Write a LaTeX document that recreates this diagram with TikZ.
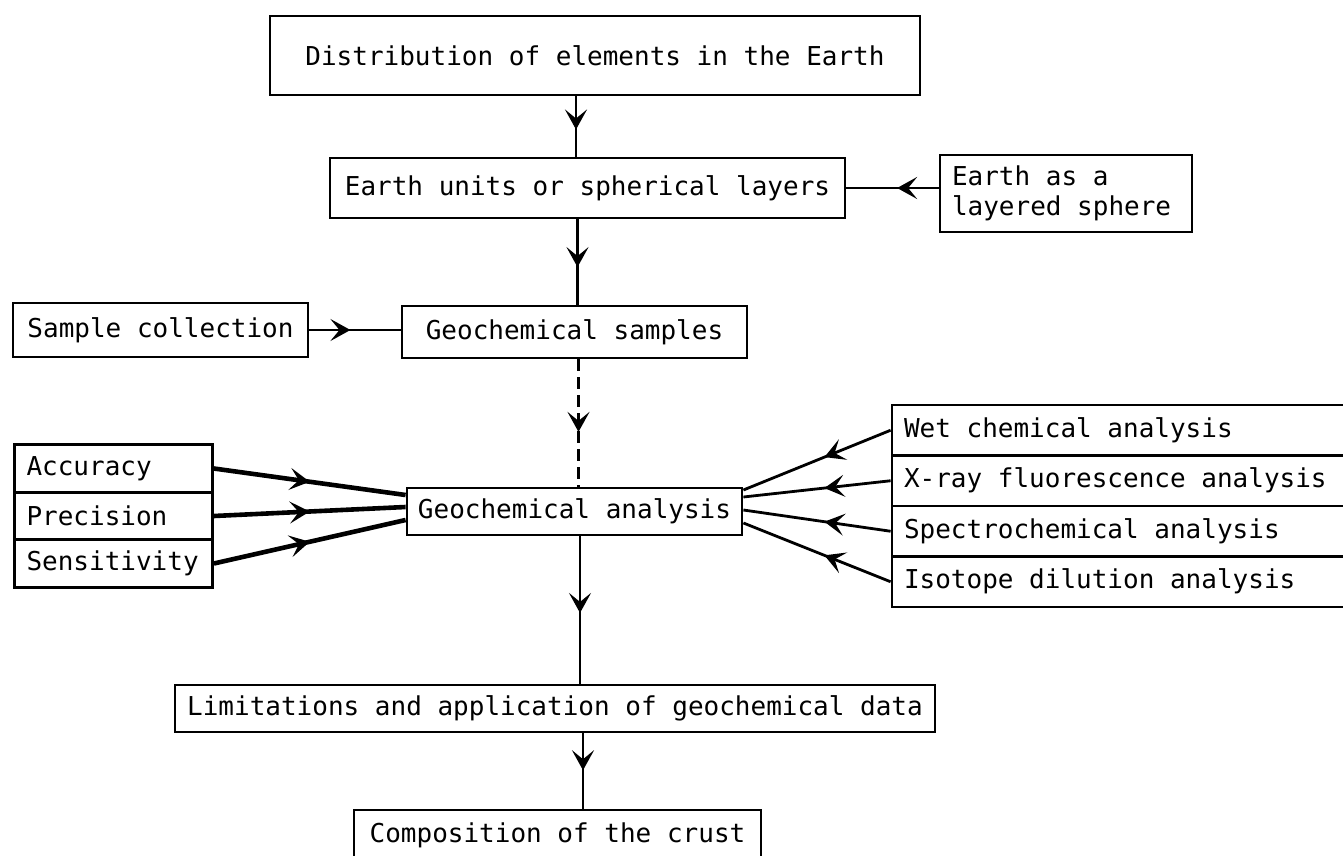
\documentclass[tikz,border=0pt]{standalone}
\usepackage{fontspec}
\newfontfamily\typefont[WordSpace={1,0,0}]{DejaVu Sans Mono}
\usepackage{tikz}
\usetikzlibrary{arrows.meta,positioning,decorations.markings}
\tikzset{
    %Define standard arrow tip
    barb/.tip={Stealth[length=10pt,width=11pt,inset=4.5pt]},
    %Define style for boxes
    stagebox/.style={
           rectangle,
           draw=black, line width=1.4pt,
           inner sep=0pt,
           font=\typefont\fontsize{13}{15}\selectfont,
           text centered},
    listbox/.style={
           rectangle,
           draw=black, line width=1.4pt,
           inner xsep=6pt, inner ysep=0pt,
           font=\typefont\fontsize{13}{15}\selectfont,
           align=left,
           execute at begin node={\spaceskip=0pt\xspaceskip=0pt\relax}},
    % Define arrow style
    link/.style={
           line width=1.4pt},
    heavylink/.style={
           line width=2.3pt},
    midarrow/.style={
           postaction={solid, decorate},
           decoration={markings,
              mark=at position #1 with {\arrow[solid]{barb}}}}
}

\begin{document}
\begin{tikzpicture}[x=0.5pt,y=-0.5pt]
\useasboundingbox (0,0) rectangle (1343,856);
 %nodes
\node[stagebox, minimum width=325pt, minimum height=39.5pt] (dist) at (595,55.5) {Distribution of elements in the Earth};
\node[stagebox, minimum width=257.5pt, minimum height=30pt] (units) at (587.5,188) {Earth units or spherical layers};
\node[listbox, text width=114pt, minimum height=38.5pt] (sphere) at (1066,193.5) {Earth as a\\layered sphere};
\node[stagebox, minimum width=147.5pt, minimum height=27pt] (collect) at (160.5,330) {Sample collection};
\node[stagebox, minimum width=172.5pt, minimum height=26pt] (samples) at (574.5,332) {Geochemical samples};
\node[stagebox, minimum width=167.5pt, minimum height=23.5pt] (analysis) at (574.5,511.5) {Geochemical analysis};

\node[listbox, text width=87pt, minimum height=23.75pt] (acc) at (113.5,468.5) {Accuracy};
\node[listbox, text width=87pt, minimum height=23.75pt, below=-1.4pt of acc] (prec) {Precision};
\node[listbox, text width=87pt, minimum height=23.75pt, below=-1.4pt of prec] (sens) {Sensitivity};

\node[listbox, text width=217pt, minimum height=25.25pt] (wet) at (1121,430.25) {Wet chemical analysis};
\node[listbox, text width=217pt, minimum height=25.25pt, below=-1.4pt of wet] (xray) {X-ray fluorescence analysis};
\node[listbox, text width=217pt, minimum height=25.25pt, below=-1.4pt of xray] (spec) {Spectrochemical analysis};
\node[listbox, text width=217pt, minimum height=25.25pt, below=-1.4pt of spec] (iso) {Isotope dilution analysis};

\node[stagebox, minimum width=380pt, minimum height=23.5pt] (lim) at (555,708.5) {Limitations and application of geochemical data};
\node[stagebox, minimum width=203.5pt, minimum height=25pt] (comp) at (557.5,835) {Composition of the crust};

 %connectors
\coordinate (d1) at ([xshift=-9.5pt]dist.south);
\draw[link, midarrow=0.55] (d1) -- (d1 |- units.north);
\coordinate (u1) at ([xshift=-5pt]units.south);
\draw[link, midarrow=0.56] (u1) -- (u1 |- samples.north);
\draw[link, midarrow=0.45] (sphere.west |- units.east) -- (units.east);
\draw[link, midarrow=0.45] (collect.east) -- (collect.east -| samples.west);
\coordinate (s1) at ([xshift=2pt]samples.south);
\draw[link, dash pattern=on 6pt off 3pt, midarrow=0.57] (s1) -- (s1 |- analysis.north);

\draw[heavylink, midarrow=0.5] (acc.east) -- ([yshift=8.25pt]analysis.west);
\draw[heavylink, midarrow=0.5] (prec.east) -- ([yshift=2.25pt]analysis.west);
\draw[heavylink, midarrow=0.5] (sens.east) -- ([yshift=-4.25pt]analysis.west);

\draw[link, midarrow=0.45] (wet.west) -- ([yshift=10.75pt]analysis.east);
\draw[link, midarrow=0.45] (xray.west) -- ([yshift=7.25pt]analysis.east);
\draw[link, midarrow=0.45] (spec.west) -- ([yshift=0.75pt]analysis.east);
\draw[link, midarrow=0.45] (iso.west) -- ([yshift=-5.75pt]analysis.east);

\coordinate (a1) at ([xshift=2.75pt]analysis.south);
\draw[link, midarrow=0.52] (a1) -- (a1 |- lim.north);
\coordinate (l1) at ([xshift=14pt]lim.south);
\draw[link, midarrow=0.49] (l1) -- (l1 |- comp.north);
\end{tikzpicture}
\end{document}
